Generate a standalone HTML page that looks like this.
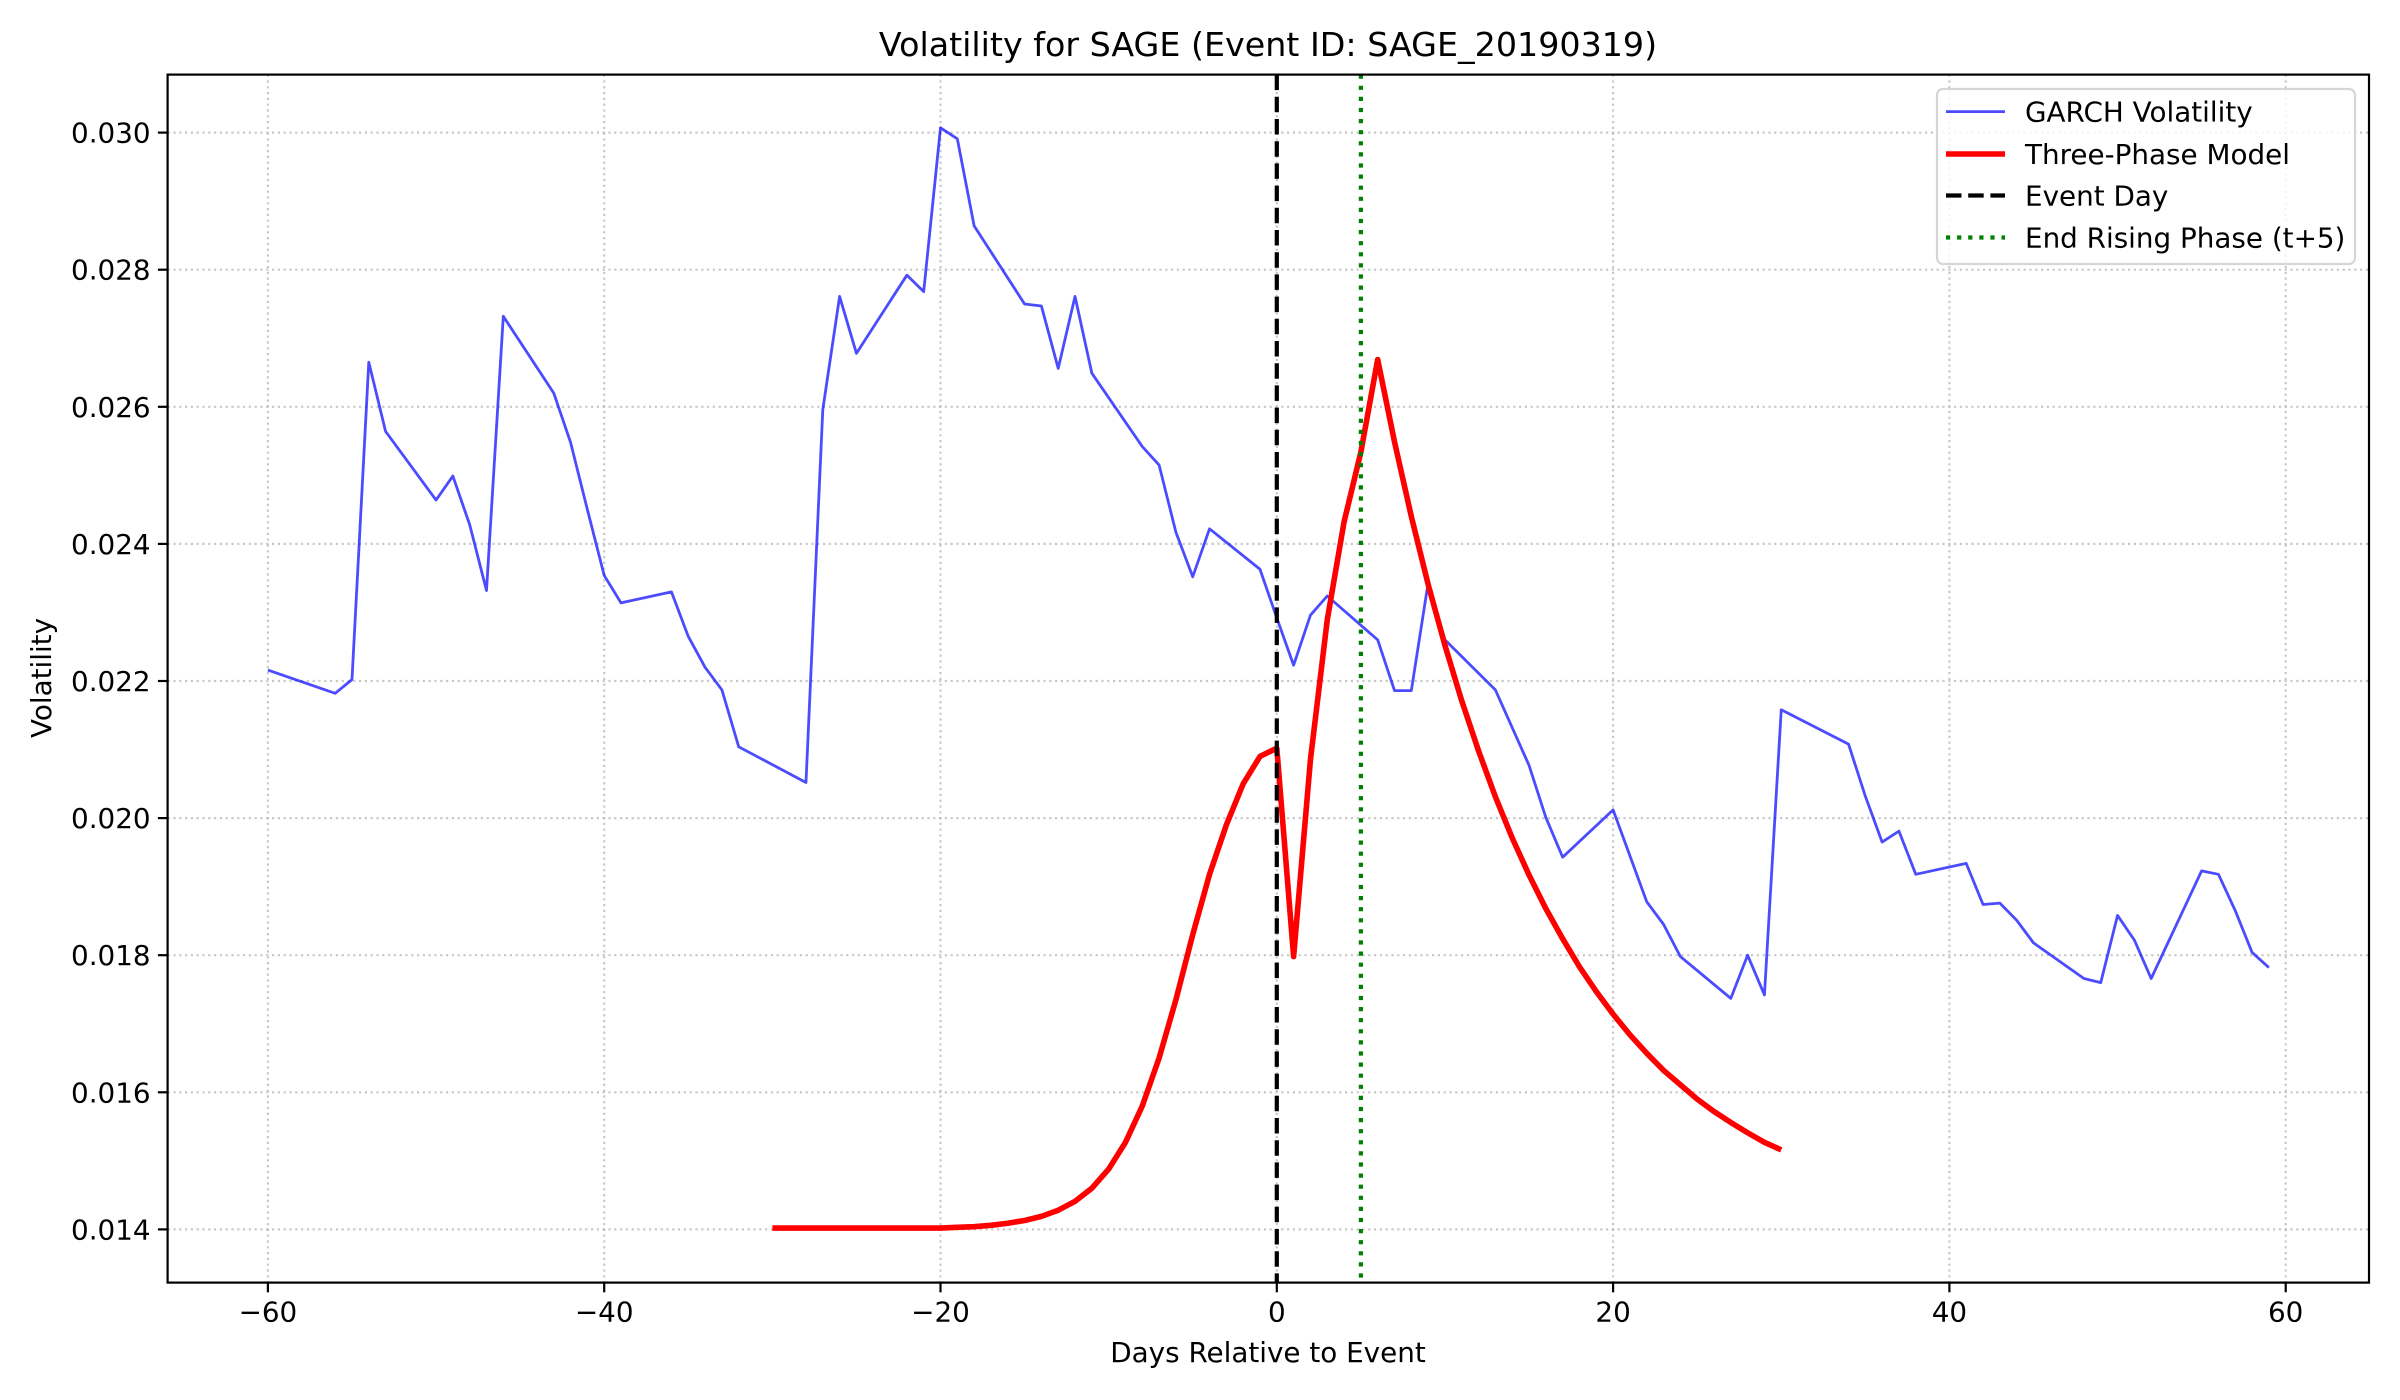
<!DOCTYPE html>
<html><head><meta charset="utf-8"><title>Volatility for SAGE</title>
<style>html,body{margin:0;padding:0;background:#fff;}svg{display:block;font-family:"DejaVu Sans","Liberation Sans",sans-serif;}</style>
</head><body>
<svg id="chart" xmlns="http://www.w3.org/2000/svg" width="2400" height="1400" viewBox="0 0 2400 1400">
<rect width="2400" height="1400" fill="#fff"/>
<g id="grid"></g>
<g id="series"></g>
<rect x="167.6" y="74.6" width="2201.4" height="1208" fill="none" stroke="#000" stroke-width="2.2"/>
<g id="ticks"></g>
<text x="1268" y="56" font-size="33.3" text-anchor="middle">Volatility for SAGE (Event ID: SAGE_20190319)</text>
<text x="1268" y="1362" font-size="27.8" text-anchor="middle">Days Relative to Event</text>
<text x="0" y="0" font-size="27.8" text-anchor="middle" transform="translate(51,678) rotate(-90)">Volatility</text>
<g>
<rect x="1937" y="89" width="418" height="175" rx="6" fill="#fff" fill-opacity="0.8" stroke="#d6d6d6" stroke-width="2.2"/>
<g>
<line x1="1946" y1="111.6" x2="2005" y2="111.6" stroke="#0000ff" stroke-opacity="0.7" stroke-width="2.8"/>
<text x="2025" y="121.5" font-size="27.8">GARCH Volatility</text></g>
<g>
<line x1="1946" y1="154" x2="2005" y2="154" stroke="#ff0000" stroke-width="5.6"/>
<text x="2025" y="164" font-size="27.8">Three-Phase Model</text></g>
<g>
<line x1="1946" y1="195.5" x2="2005" y2="195.5" stroke="#000" stroke-width="4.2" stroke-dasharray="15.5,6.7"/>
<text x="2025" y="205.5" font-size="27.8">Event Day</text></g>
<g>
<line x1="1946" y1="237.5" x2="2005" y2="237.5" stroke="#008000" stroke-width="4.2" stroke-dasharray="4.2,6.9"/>
<text x="2025" y="247.5" font-size="27.8">End Rising Phase (t+5)</text></g>
</g>
</svg>
<script>
const garchDays = [-60,-56,-55,-54,-53,-50,-49,-48,-47,-46,-43,-42,-41,-40,-39,-36,-35,-34,-33,-32,-28,-27,-26,-25,-22,-21,-20,-19,-18,-15,-14,-13,-12,-11,-8,-7,-6,-5,-4,-1,0,1,2,3,6,7,8,9,10,13,15,16,17,20,22,23,24,27,28,29,30,34,35,36,37,38,41,42,43,44,45,48,49,50,51,52,55,56,57,58,59];
const garchValues = [0.02216,0.02182,0.02202,0.02665,0.02564,0.02464,0.02499,0.02428,0.02332,0.02732,0.02620,0.02548,0.02450,0.02354,0.02314,0.02330,0.02265,0.02220,0.02187,0.02104,0.02052,0.02596,0.02761,0.02678,0.02792,0.02768,0.03007,0.02991,0.02864,0.02750,0.02747,0.02656,0.02761,0.02649,0.02542,0.02515,0.02417,0.02352,0.02422,0.02363,0.02292,0.02223,0.02296,0.02324,0.02260,0.02186,0.02186,0.02343,0.02260,0.02187,0.02077,0.02001,0.01943,0.02012,0.01878,0.01845,0.01798,0.01737,0.01800,0.01742,0.02158,0.02108,0.02032,0.01965,0.01981,0.01918,0.01934,0.01874,0.01876,0.01851,0.01818,0.01766,0.01760,0.01858,0.01822,0.01766,0.01923,0.01918,0.01865,0.01804,0.01782];
const modelDays = [-30,-29,-28,-27,-26,-25,-24,-23,-22,-21,-20,-19,-18,-17,-16,-15,-14,-13,-12,-11,-10,-9,-8,-7,-6,-5,-4,-3,-2,-1,0,1,2,3,4,5,6,7,8,9,10,11,12,13,14,15,16,17,18,19,20,21,22,23,24,25,26,27,28,29,30];
const modelValues = [0.01402,0.01402,0.01402,0.01402,0.01402,0.01402,0.01402,0.01402,0.01402,0.01402,0.01402,0.01403,0.01404,0.01406,0.01409,0.01413,0.01419,0.01428,0.01441,0.01460,0.01488,0.01527,0.01580,0.01650,0.01735,0.01830,0.01918,0.01990,0.02050,0.02090,0.02102,0.01798,0.02085,0.02289,0.02432,0.02534,0.02669,0.02549,0.02440,0.02341,0.02252,0.02171,0.02098,0.02031,0.01971,0.01917,0.01868,0.01824,0.01783,0.01747,0.01714,0.01684,0.01657,0.01632,0.01611,0.01590,0.01572,0.01556,0.01541,0.01527,0.01516];
const xTicks = [-60,-40,-20,0,20,40,60];
const xTickLabels = ["\u221260","\u221240","\u221220","0","20","40","60"];
const yTicks = [0.014,0.016,0.018,0.020,0.022,0.024,0.026,0.028,0.030];
const yTickLabels = ["0.014","0.016","0.018","0.020","0.022","0.024","0.026","0.028","0.030"];
const eventDay = [0];
const endRisingDay = [5];

const NS = "http://www.w3.org/2000/svg";
const L = 167.6, R = 2369, T = 74.6, B = 1282.6;
function xs(d){ return 1276.8 + d * 16.815; }
function ys(v){ return 132.6 + (0.030 - v) / 0.002 * 137.1; }
function mk(tag, attrs, parent){ const e = document.createElementNS(NS, tag); for (const k in attrs) e.setAttribute(k, attrs[k]); parent.appendChild(e); return e; }
const grid = document.getElementById('grid'), ticks = document.getElementById('ticks'), series = document.getElementById('series');

xTicks.forEach((t, i) => {
  const x = xs(t);
  const g = mk('line', {x1:x, x2:x, y1:T, y2:B, stroke:'#b0b0b0', 'stroke-width':2.2, 'stroke-dasharray':'2.2,3.6', 'stroke-opacity':0.7}, grid);
  
  
  const tk = mk('line', {x1:x, x2:x, y1:B, y2:B+9.7, stroke:'#000', 'stroke-width':2.2}, ticks);
  
  
  const lb = mk('text', {x:x, y:B+39, 'font-size':27.8, 'text-anchor':'middle'}, ticks);
  lb.textContent = xTickLabels[i];
  
  
});
yTicks.forEach((t, i) => {
  const y = ys(t);
  const g = mk('line', {x1:L, x2:R, y1:y, y2:y, stroke:'#b0b0b0', 'stroke-width':2.2, 'stroke-dasharray':'2.2,3.6', 'stroke-opacity':0.7}, grid);
  
  
  const tk = mk('line', {x1:L-9.7, x2:L, y1:y, y2:y, stroke:'#000', 'stroke-width':2.2}, ticks);
  
  
  const lb = mk('text', {x:L-17, y:y+10, 'font-size':27.8, 'text-anchor':'end'}, ticks);
  lb.textContent = yTickLabels[i];
  
  
});

const gp = mk('polyline', {points: garchDays.map((d, i) => xs(d) + ',' + ys(garchValues[i])).join(' '), fill:'none', stroke:'#0000ff', 'stroke-opacity':0.7, 'stroke-width':2.8, 'stroke-linejoin':'round'}, series);



const mp = mk('polyline', {points: modelDays.map((d, i) => xs(d) + ',' + ys(modelValues[i])).join(' '), fill:'none', stroke:'#ff0000', 'stroke-width':5.6, 'stroke-linejoin':'round'}, series);



const ev = mk('line', {x1:xs(eventDay[0]), x2:xs(eventDay[0]), y1:T, y2:B, stroke:'#000', 'stroke-width':4.2, 'stroke-dasharray':'15.5,6.7'}, series);



const er = mk('line', {x1:xs(endRisingDay[0]), x2:xs(endRisingDay[0]), y1:T, y2:B, stroke:'#008000', 'stroke-width':4.2, 'stroke-dasharray':'4.2,6.9'}, series);


</script>
</body></html>
